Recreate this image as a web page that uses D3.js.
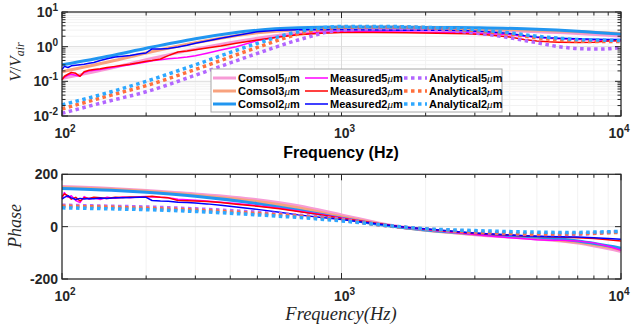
<!DOCTYPE html>
<html>
<head>
<meta charset="utf-8">
<script src="https://cdn.jsdelivr.net/npm/d3@7"></script>
<style>
  body { margin: 0; background: #fff; }
  text { font-family: "Liberation Sans", Arial, sans-serif; }
</style>
</head>
<body>
<svg id="chart" width="631" height="328"></svg>
<script>
// ---- data ----
const seriesNames = ["Comsol5", "Comsol3", "Comsol2", "Measured5", "Measured3", "Measured2", "Analytical5", "Analytical3", "Analytical2"];

// comsol curves
const fComsol = [100, 150, 200, 300, 500, 700, 1000, 1500, 2000, 3000, 5000, 7000, 10000];
const magComsol5 = [0.12, 0.24, 0.42, 0.85, 1.75, 2.5, 3.0, 3.2, 3.2, 3.0, 2.7, 2.4, 2.0];
const magComsol3 = [0.19, 0.38, 0.66, 1.3, 2.5, 3.1, 3.4, 3.5, 3.4, 3.3, 3.0, 2.7, 2.4];
const magComsol2 = [0.30, 0.55, 0.90, 1.7, 3.0, 3.5, 3.7, 3.7, 3.6, 3.5, 3.2, 2.8, 2.3];
const phComsol5 = [153, 146, 138, 125, 103, 80, 45, 5, -12, -31, -47, -63, -95];
const phComsol3 = [150, 143, 135, 120, 96, 72, 38, 3, -14, -29, -44, -60, -88];
const phComsol2 = [146, 139, 131, 116, 88, 63, 32, 2, -13, -27, -40, -55, -82];

// analytical curves
const fAna = [100, 150, 200, 300, 500, 700, 1000, 1500, 2000, 3000, 4000, 5000, 6000, 7000, 8500, 10000];
const magAnalytical5 = [0.012, 0.028, 0.05, 0.15, 0.64, 1.56, 3.0, 3.3, 3.2, 2.5, 1.8, 1.3, 1.0, 0.88, 0.85, 0.95];
const magAnalytical3 = [0.016, 0.04, 0.075, 0.22, 0.95, 2.3, 3.6, 3.7, 3.5, 2.9, 2.3, 1.8, 1.55, 1.45, 1.4, 1.4];
const magAnalytical2 = [0.021, 0.05, 0.10, 0.3, 1.25, 2.7, 3.8, 3.8, 3.6, 3.1, 2.5, 2.0, 1.75, 1.6, 1.55, 1.5];
const phAnalytical5 = [82, 78, 75, 68, 55, 44, 28, 2, -10, -22, -27, -30, -30, -29, -24, -18];
const phAnalytical3 = [78, 74, 70, 63, 50, 40, 25, 2, -9, -20, -25, -28, -28, -27, -24, -22];
const phAnalytical2 = [72, 68, 65, 58, 45, 35, 22, 3, -8, -15, -19, -21, -22, -22, -20, -18];

// measured curves (noisy)
const fMeas = [100, 102, 105, 108, 112, 116, 120, 125, 130, 137, 145, 155, 165, 175, 190, 200, 210, 225, 240, 260, 280, 300, 330, 370, 420, 500, 600, 700, 850, 1000, 1300, 1700, 2200, 2800, 3300, 4000, 4500, 5000, 5500, 6000, 7000, 8000, 9000, 10000];
const magMeasured5 = [0.12, 0.13, 0.15, 0.16, 0.15, 0.14, 0.18, 0.2, 0.21, 0.22, 0.24, 0.26, 0.28, 0.30, 0.34, 0.36, 0.39, 0.42, 0.45, 0.47, 0.50, 0.55, 0.65, 0.80, 1.0, 1.5, 1.95, 2.3, 2.6, 2.7, 2.7, 2.65, 2.6, 2.55, 2.4, 2.2, 2.0, 1.85, 1.75, 1.7, 1.6, 1.55, 1.5, 1.45];
const magMeasured3 = [0.11, 0.14, 0.16, 0.18, 0.17, 0.14, 0.19, 0.21, 0.22, 0.23, 0.25, 0.27, 0.29, 0.31, 0.35, 0.38, 0.40, 0.44, 0.55, 0.70, 0.75, 0.82, 0.92, 1.05, 1.25, 1.55, 1.9, 2.2, 2.45, 2.55, 2.55, 2.5, 2.45, 2.35, 2.2, 1.9, 1.6, 1.45, 1.38, 1.35, 1.32, 1.35, 1.45, 1.5];
const magMeasured2 = [0.22, 0.27, 0.25, 0.28, 0.29, 0.30, 0.31, 0.33, 0.35, 0.40, 0.45, 0.50, 0.53, 0.56, 0.62, 0.66, 0.86, 0.85, 0.88, 0.98, 1.1, 1.25, 1.45, 1.75, 2.1, 2.7, 3.0, 3.1, 3.1, 3.1, 3.05, 3.0, 3.0, 2.9, 2.7, 2.4, 2.1, 1.9, 1.8, 1.75, 1.7, 1.65, 1.6, 1.6];
const phMeasured5 = [108, 130, 112, 118, 100, 92, 115, 105, 110, 104, 112, 108, 113, 110, 114, 115, 113, 112, 110, 105, 103, 101, 98, 93, 88, 80, 70, 60, 46, 33, 14, -3, -16, -27, -35, -42, -46, -50, -52, -52, -55, -62, -75, -90];
const phMeasured3 = [115, 125, 118, 105, 112, 98, 110, 108, 112, 110, 108, 112, 111, 113, 112, 114, 116, 112, 110, 100, 99, 98, 96, 92, 86, 78, 68, 58, 45, 32, 14, -2, -14, -24, -29, -33, -36, -38, -39, -40, -42, -45, -50, -55];
const phMeasured2 = [105, 112, 118, 110, 104, 108, 106, 108, 107, 109, 108, 110, 110, 111, 112, 112, 100, 98, 97, 93, 92, 90, 87, 82, 75, 66, 55, 45, 35, 27, 12, -2, -12, -22, -27, -32, -35, -37, -38, -39, -40, -42, -45, -48];

const xTicks = [100, 1000, 10000];
const magTicks = [0.01, 0.1, 1, 10];
const phTicks = [-200, 0, 200];

// ---- styles ----
const style = {
  Comsol5: { color: "#f79bd6", width: 3, dash: null },
  Comsol3: { color: "#f8a27e", width: 3, dash: null },
  Comsol2: { color: "#2196f0", width: 3, dash: null },
  Measured5: { color: "#ff00ff", width: 1.5, dash: null },
  Measured3: { color: "#ff0000", width: 1.5, dash: null },
  Measured2: { color: "#0000ff", width: 1.5, dash: null },
  Analytical5: { color: "#b266ff", width: 3.5, dash: "3.5,3.5" },
  Analytical3: { color: "#ff6f3c", width: 3.5, dash: "3.5,3.5" },
  Analytical2: { color: "#2ea8ff", width: 3.5, dash: "3.5,3.5" },
};

const svg = d3.select("#chart");
const left = 62, right = 621;

const x = d3.scaleLog().domain([100, 10000]).range([left, right]);
const yMag = d3.scaleLog().domain([0.01, 10]).range([116, 12]);
const yPh = d3.scaleLinear().domain([-200, 200]).range([279, 174.3]);

const minorX = [];
[100, 1000].forEach(d => { for (let k = 2; k <= 9; k++) minorX.push(d * k); });
const minorMag = [];
[0.01, 0.1, 1].forEach(d => { for (let k = 2; k <= 9; k++) minorMag.push(d * k); });

function pow10Label(g, xPos, yPos, exp, anchor) {
  const t = g.append("text")
    .attr("x", xPos).attr("y", yPos)
    .attr("text-anchor", anchor)
    .attr("font-weight", "bold")
    .attr("font-size", 14)
    .attr("fill", "#262626");
  t.append("tspan").text("10");
  t.append("tspan").attr("dy", -6).attr("font-size", 10).text(exp);
}

function drawPanel(y, yTop, yBot, yMajor, yMinor, curves) {
  const g = svg.append("g");
  g.append("rect").attr("x", left).attr("y", yTop).attr("width", right - left).attr("height", yBot - yTop).attr("fill", "#fff");

  // minor grid
  g.selectAll(".mgx").data(minorX).enter().append("line")
    .attr("x1", d => x(d)).attr("x2", d => x(d)).attr("y1", yTop).attr("y2", yBot)
    .attr("stroke", "#f2f2f2").attr("stroke-width", 1);
  g.selectAll(".mgy").data(yMinor).enter().append("line")
    .attr("x1", left).attr("x2", right).attr("y1", d => y(d)).attr("y2", d => y(d))
    .attr("stroke", "#f2f2f2").attr("stroke-width", 1);
  // major grid
  g.selectAll(".gx").data(xTicks).enter().append("line")
    .attr("x1", d => x(d)).attr("x2", d => x(d)).attr("y1", yTop).attr("y2", yBot)
    .attr("stroke", "#dcdcdc").attr("stroke-width", 1);
  g.selectAll(".gy").data(yMajor).enter().append("line")
    .attr("x1", left).attr("x2", right).attr("y1", d => y(d)).attr("y2", d => y(d))
    .attr("stroke", "#dcdcdc").attr("stroke-width", 1);

  // curves
  curves.forEach(c => {
    const st = style[c.name];
    const line = d3.line()
      .x((d, i) => x(c.f[i]))
      .y(d => y(d))
      .curve(c.smooth ? d3.curveMonotoneX : d3.curveLinear);
    g.append("path")
      .attr("d", line(c.v))
      .attr("fill", "none")
      .attr("stroke", st.color)
      .attr("stroke-width", st.width)
      .attr("stroke-dasharray", st.dash)
      .attr("stroke-linejoin", "round");
  });

  // ticks (inward, both sides)
  const tk = "#262626";
  const ticksX = xTicks.map(d => ({ v: d, len: 6 })).concat(minorX.map(d => ({ v: d, len: 3.5 })));
  ticksX.forEach(t => {
    g.append("line").attr("x1", x(t.v)).attr("x2", x(t.v)).attr("y1", yBot).attr("y2", yBot - t.len).attr("stroke", tk);
    g.append("line").attr("x1", x(t.v)).attr("x2", x(t.v)).attr("y1", yTop).attr("y2", yTop + t.len).attr("stroke", tk);
  });
  const ticksY = yMajor.map(d => ({ v: d, len: 6 })).concat(yMinor.map(d => ({ v: d, len: 3.5 })));
  ticksY.forEach(t => {
    g.append("line").attr("y1", y(t.v)).attr("y2", y(t.v)).attr("x1", left).attr("x2", left + t.len).attr("stroke", tk);
    g.append("line").attr("y1", y(t.v)).attr("y2", y(t.v)).attr("x1", right).attr("x2", right - t.len).attr("stroke", tk);
  });

  g.append("rect").attr("x", left).attr("y", yTop).attr("width", right - left).attr("height", yBot - yTop)
    .attr("fill", "none").attr("stroke", tk).attr("stroke-width", 1.2);

  // x tick labels (the last one sits tight against the right edge, as in the original)
  xTicks.forEach((d, i) => pow10Label(g, i === xTicks.length - 1 ? x(d) - 2 : x(d) + 3, yBot + 22, Math.round(Math.log10(d)), "middle"));
  return g;
}

const mk = (name, f, v, smooth) => ({ name, f, v, smooth });

// ---- top panel: magnitude ----
const gTop = drawPanel(yMag, 12, 116, magTicks, minorMag, [
  mk("Comsol5", fComsol, magComsol5, true),
  mk("Comsol3", fComsol, magComsol3, true),
  mk("Comsol2", fComsol, magComsol2, true),
  mk("Measured5", fMeas, magMeasured5, false),
  mk("Measured3", fMeas, magMeasured3, false),
  mk("Measured2", fMeas, magMeasured2, false),
  mk("Analytical5", fAna, magAnalytical5, true),
  mk("Analytical3", fAna, magAnalytical3, true),
  mk("Analytical2", fAna, magAnalytical2, true),
]);
magTicks.forEach(d => pow10Label(gTop, 58, yMag(d) + 5, Math.round(Math.log10(d)), "end"));

// ---- bottom panel: phase ----
const gBot = drawPanel(yPh, 174.3, 279, phTicks, [], [
  mk("Comsol5", fComsol, phComsol5, true),
  mk("Comsol3", fComsol, phComsol3, true),
  mk("Comsol2", fComsol, phComsol2, true),
  mk("Measured5", fMeas, phMeasured5, false),
  mk("Measured3", fMeas, phMeasured3, false),
  mk("Measured2", fMeas, phMeasured2, false),
  mk("Analytical5", fAna, phAnalytical5, true),
  mk("Analytical3", fAna, phAnalytical3, true),
  mk("Analytical2", fAna, phAnalytical2, true),
]);
phTicks.forEach(d => gBot.append("text")
  .attr("x", 58).attr("y", yPh(d) + 5)
  .attr("text-anchor", "end").attr("font-weight", "bold").attr("font-size", 14)
  .attr("fill", "#262626").text(d));

// ---- axis titles ----
svg.append("text").attr("x", 341).attr("y", 158).attr("text-anchor", "middle")
  .attr("font-weight", "bold").attr("font-size", 16).attr("fill", "#000").text("Frequency (Hz)");

const serif = "'Liberation Serif', 'DejaVu Serif', serif";
svg.append("text").attr("x", 341).attr("y", 320).attr("text-anchor", "middle")
  .style("font-family", serif).attr("font-style", "italic").attr("font-size", 18.5).attr("fill", "#262626")
  .text("Frequency(Hz)");

const yl1 = svg.append("text").attr("transform", "translate(21,62) rotate(-90)").attr("text-anchor", "middle")
  .style("font-family", serif).attr("font-size", 17).attr("fill", "#262626");
yl1.append("tspan").attr("font-style", "italic").text("V");
yl1.append("tspan").text("/");
yl1.append("tspan").attr("font-style", "italic").text("V");
yl1.append("tspan").attr("font-style", "italic").attr("font-size", 12).attr("dy", 3).text("air");

svg.append("text").attr("transform", "translate(21,226) rotate(-90)").attr("text-anchor", "middle")
  .style("font-family", serif).attr("font-style", "italic").attr("font-size", 18).attr("fill", "#262626")
  .text("Phase");

// ---- legend ----
const leg = svg.append("g");
leg.append("rect").attr("x", 211).attr("y", 69).attr("width", 291).attr("height", 43)
  .attr("fill", "#fff").attr("stroke", "#a8a8a8").attr("stroke-width", 1);
const colX = [213, 305, 404];
const rowY = [78, 91, 104];
seriesNames.forEach((name, i) => {
  const col = Math.floor(i / 3), row = i % 3;
  const st = style[name];
  const lx = colX[col], ly = rowY[row];
  leg.append("line").attr("x1", lx).attr("x2", lx + 23).attr("y1", ly).attr("y2", ly)
    .attr("stroke", st.color).attr("stroke-width", st.width).attr("stroke-dasharray", st.dash);
  const t = leg.append("text").attr("x", lx + 25).attr("y", ly + 4)
    .attr("font-weight", "bold").attr("font-size", 11).attr("fill", "#000");
  t.append("tspan").text(name);
  t.append("tspan").style("font-family", serif).attr("font-style", "italic").attr("font-weight", "normal").text("\u03bc");
  t.append("tspan").text("m");
});
</script>
</body>
</html>
